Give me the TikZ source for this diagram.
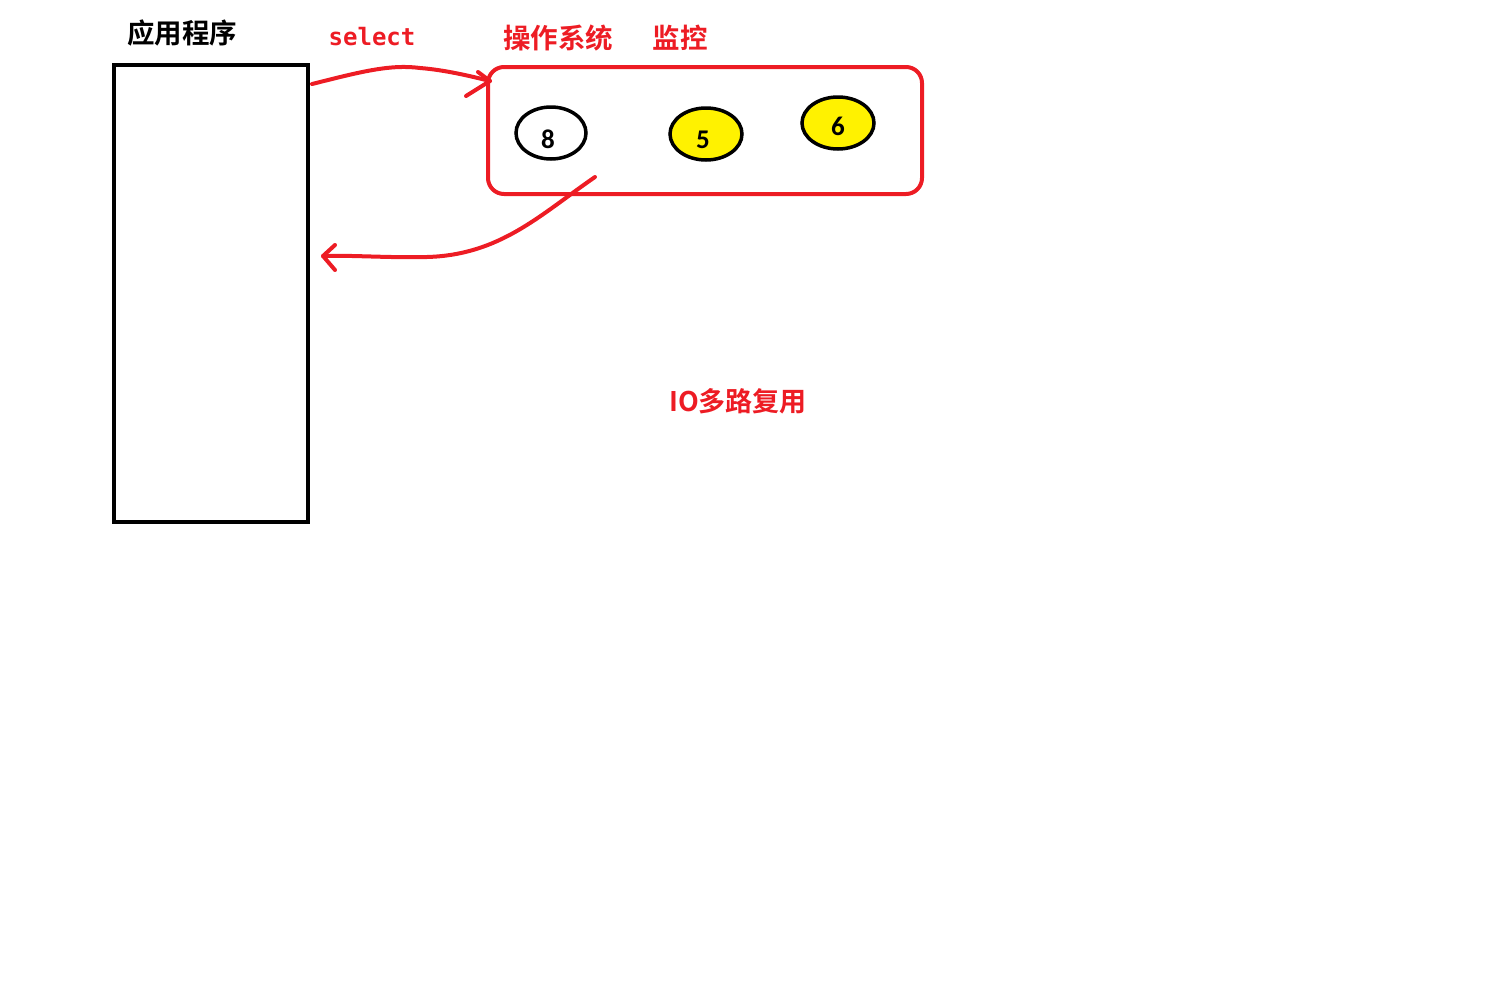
\documentclass[tikz,border=0pt]{standalone}
\usepackage{fontspec}
\usetikzlibrary{shapes.geometric}
\setmainfont{Carlito}
\newfontfamily\cjk{Noto Sans CJK SC}[BoldFont={* Bold}]
\newfontfamily\monof{DejaVu Sans Mono}
\definecolor{pred}{RGB}{237,28,36}
\definecolor{pyel}{RGB}{255,242,0}
\begin{document}
\begin{tikzpicture}[x=1pt,y=-1pt,
  redline/.style={draw=pred,line width=4pt,line cap=round,line join=round},
  fd/.style={ellipse,draw=black,line width=3.5pt,minimum width=70pt,minimum height=52pt,inner sep=0pt},
  num/.style={font=\bfseries\fontsize{27}{27}\selectfont},
  cjklab/.style={font=\cjk\bfseries\fontsize{27.5}{27.5}\selectfont},
]
\useasboundingbox (0,0) rectangle (1512,1004);
% application box
\node[draw=black,line width=4pt,minimum width=194pt,minimum height=457pt,inner sep=0pt] (app) at (211,293.5) {};
\node[cjklab,text=black] (apptitle) at (182,33) {应用程序};
% OS box
\node[draw=pred,line width=4pt,rounded corners=16pt,minimum width=434pt,minimum height=127pt,inner sep=0pt] (os) at (705,130.5) {};
\node[cjklab,text=pred] (ostitle) at (558,38) {操作系统};
\node[cjklab,text=pred] (mon) at (680,38) {监控};
\node[font=\monof\bfseries\fontsize{24}{24}\selectfont,text=pred] (sel) at (372,37) {select};
% file descriptors
\node[fd,fill=white] (f8) at (551,133) {};
\node[num] at (548,139) {8};
\node[fd,fill=pyel,minimum width=72pt] (f5) at (706,134) {};
\node[num] at (703,140) {5};
\node[fd,fill=pyel,minimum width=72pt] (f6) at (838,123) {};
\node[num] at (838,126) {6};
% arrows
\coordinate (a1s) at (312,84);
\coordinate (a1e) at (490,81);
\draw[redline] (a1s) .. controls (360,72) and (390,64) .. (420,68) .. controls (445,70) and (470,76) .. (a1e);
\draw[redline] (478,72) -- (a1e) -- (466,96);
\coordinate (a2s) at (595,177);
\coordinate (a2e) at (323,256);
\draw[redline] (a2s) .. controls (540,215) and (500,255) .. (427,257) .. controls (390,258) and (350,255) .. (a2e);
\draw[redline] (335,245) -- (a2e) -- (335,270);
% caption
\node[font=\cjk\bfseries\fontsize{27}{27}\selectfont,text=pred] (cap) at (738,401) {IO多路复用};
\end{tikzpicture}
\end{document}
